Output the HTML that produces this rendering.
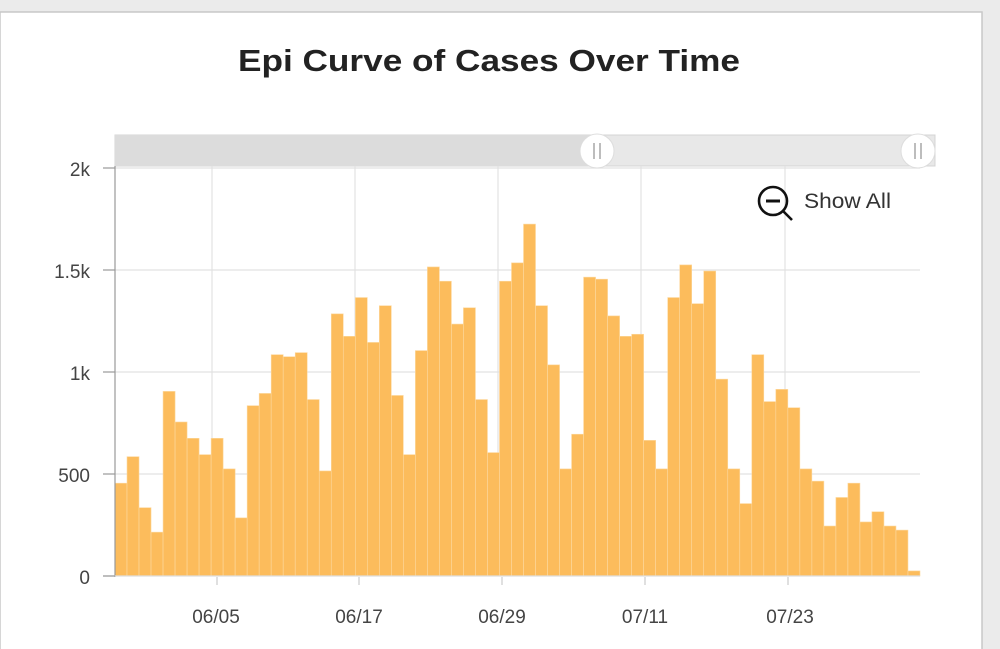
<!DOCTYPE html>
<html><head><meta charset="utf-8"><style>
html,body{margin:0;padding:0;background:#ebebeb;width:1000px;height:649px;overflow:hidden}
svg{display:block;font-family:"Liberation Sans",sans-serif}
</style></head><body>
<svg width="1000" height="649" viewBox="0 0 1000 649" xmlns="http://www.w3.org/2000/svg">
<rect x="0" y="12" width="982" height="640" fill="#fff" stroke="#c8c8c8" stroke-width="1.5"/>
<text x="489" y="71" text-anchor="middle" font-size="31" font-weight="bold" fill="#222" textLength="502" lengthAdjust="spacingAndGlyphs">Epi Curve of Cases Over Time</text>
<rect x="115" y="135" width="820" height="31" fill="#e8e8e8" stroke="#d4d4d4"/>
<rect x="115" y="135" width="482" height="31" fill="#dcdcdc"/>
<g stroke="#e2e2e2" stroke-width="1.2">
<line x1="115" y1="168" x2="920" y2="168"/><line x1="115" y1="270" x2="920" y2="270"/>
<line x1="115" y1="372" x2="920" y2="372"/><line x1="115" y1="474" x2="920" y2="474"/>
<line x1="212" y1="166" x2="212" y2="576"/><line x1="355" y1="166" x2="355" y2="576"/>
<line x1="498" y1="166" x2="498" y2="576"/><line x1="641" y1="166" x2="641" y2="576"/>
<line x1="785" y1="166" x2="785" y2="576"/>
</g>
<g id="bars" fill="#fcbc5c" stroke="#fdd9a0" stroke-width="0.6"></g>
<line x1="115" y1="166" x2="115" y2="577" stroke="#999" stroke-width="1.2"/>
<line x1="103" y1="576" x2="920" y2="576" stroke="#ddd" stroke-width="1.2"/>
<g stroke="#999" stroke-width="1.2">
<line x1="103" y1="168" x2="115" y2="168"/><line x1="103" y1="270" x2="115" y2="270"/>
<line x1="103" y1="372" x2="115" y2="372"/><line x1="103" y1="474" x2="115" y2="474"/>
<line x1="103" y1="576" x2="115" y2="576"/>
</g>
<g stroke="#ccc" stroke-width="1.2">
<line x1="217" y1="577" x2="217" y2="585"/><line x1="359" y1="577" x2="359" y2="585"/>
<line x1="502" y1="577" x2="502" y2="585"/><line x1="645" y1="577" x2="645" y2="585"/>
<line x1="788" y1="577" x2="788" y2="585"/>
</g>
<g font-size="19" fill="#444" text-anchor="end">
<text x="90" y="176">2k</text><text x="90" y="278">1.5k</text><text x="90" y="380">1k</text>
<text x="90" y="482">500</text><text x="90" y="584">0</text>
</g>
<g font-size="19" fill="#444" text-anchor="middle">
<text x="216" y="623">06/05</text><text x="359" y="623">06/17</text><text x="502" y="623">06/29</text>
<text x="645" y="623">07/11</text><text x="790" y="623">07/23</text>
</g>
<g>
<circle cx="597" cy="151" r="17" fill="#fff" stroke="#ddd"/>
<line x1="594" y1="143" x2="594" y2="159" stroke="#999" stroke-width="1.3"/><line x1="600" y1="143" x2="600" y2="159" stroke="#999" stroke-width="1.3"/>
<circle cx="918" cy="151" r="17" fill="#fff" stroke="#ddd"/>
<line x1="915" y1="143" x2="915" y2="159" stroke="#999" stroke-width="1.3"/><line x1="921" y1="143" x2="921" y2="159" stroke="#999" stroke-width="1.3"/>
</g>
<circle cx="773" cy="201" r="14" fill="none" stroke="#111" stroke-width="2.6"/>
<line x1="766" y1="201" x2="780" y2="201" stroke="#111" stroke-width="3"/>
<line x1="783" y1="211" x2="792" y2="220" stroke="#111" stroke-width="2.6"/>
<text x="804" y="208" font-size="21" fill="#333" textLength="87" lengthAdjust="spacingAndGlyphs">Show All</text>
</svg>
<script>
var v=[455,585,335,215,905,755,675,595,675,525,285,835,895,1085,1075,1095,865,515,1285,1175,1365,1145,1325,885,595,1105,1515,1445,1235,1315,865,605,1445,1535,1725,1325,1035,525,695,1465,1455,1275,1175,1185,665,525,1365,1525,1335,1495,965,525,355,1085,855,915,825,525,465,245,385,455,265,315,245,225,25];
var g=document.getElementById('bars'),s='',w=805/67;
for(var i=0;i<v.length;i++){var h=v[i]*0.204;s+='<rect x="'+(115+i*w).toFixed(2)+'" y="'+(576-h).toFixed(2)+'" width="'+w.toFixed(2)+'" height="'+h.toFixed(2)+'"/>';}
g.innerHTML=s;
</script>
</body></html>
